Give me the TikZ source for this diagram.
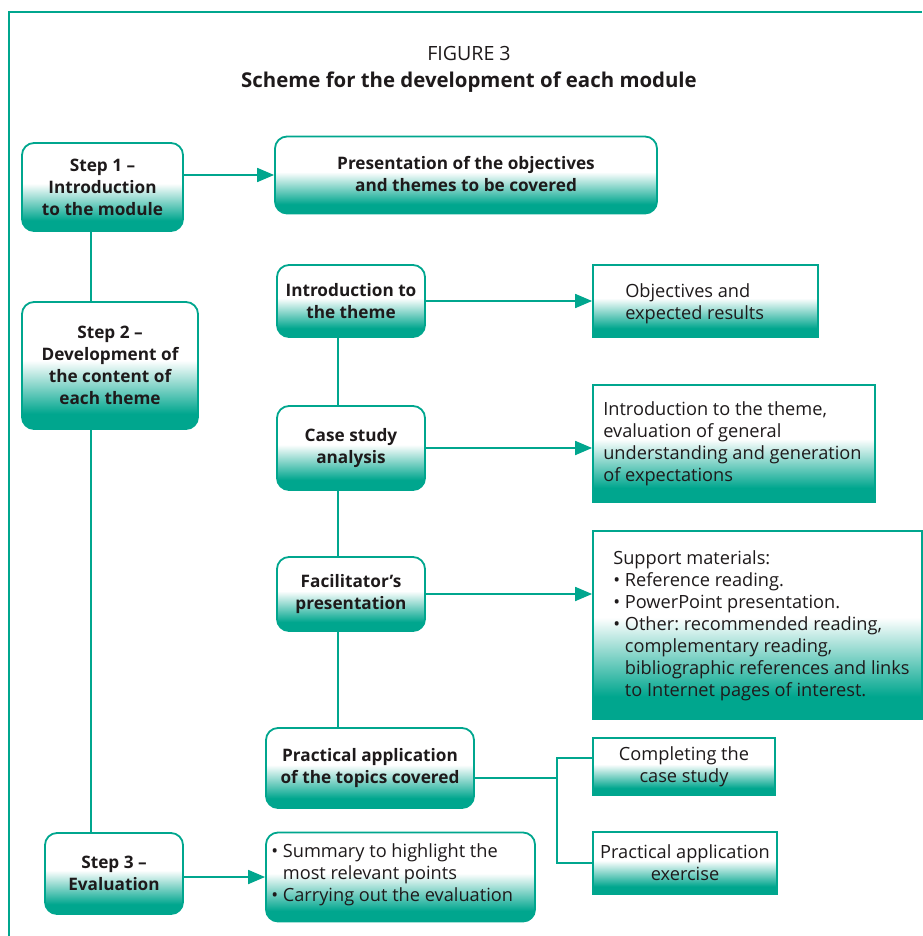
\documentclass[tikz,border=0pt]{standalone}
\usepackage{fontspec}
\setmainfont{Open Sans}
\usetikzlibrary{arrows.meta}
\definecolor{tealc}{RGB}{0,166,142}
\definecolor{ink}{RGB}{30,26,27}
\pgfdeclareverticalshading{tealfade}{100bp}{color(0bp)=(tealc); color(31bp)=(tealc); color(52bp)=(white); color(100bp)=(white)}
\frenchspacing
\begin{document}
\begin{tikzpicture}[x=1pt,y=-1pt,
  box/.style={draw=tealc, line width=1.8pt, shade, shading=tealfade, text=ink, inner sep=0pt},
  rbox/.style={box, rounded corners=12pt, align=center, font=\fontsize{17.2}{22}\selectfont\bfseries},
  sbox/.style={box, align=center, font=\fontsize{18.2}{22}\selectfont},
  txt/.style={text=ink, align=left, anchor=west, inner sep=0pt, font=\fontsize{18.2}{22}\selectfont},
  conn/.style={draw=tealc, line width=1.8pt},
  arr/.style={conn, -{Triangle[length=17pt,width=14pt]}}
]
\useasboundingbox (0,0) rectangle (922,936);
\draw[conn, line width=2pt] (9,936) -- (9,12) -- (922,12);

\node[font=\fontsize{19.6}{22}\selectfont, text=ink] (fig) at (469,54) {FIGURE 3};
\node[font=\fontsize{20.4}{24}\selectfont\bfseries, text=ink] (ttl) at (469,82) {Scheme for the development of each module};

% rounded boxes
\node[rbox, minimum width=161pt, minimum height=88pt] (s1) at (102.5,187) {Step 1 --\\Introduction\\to the module};
\node[rbox, minimum width=382pt, minimum height=77pt] (pres) at (466,175) {\raisebox{3pt}{Presentation of the objectives}\\\raisebox{3pt}{and themes to be covered}};
\node[rbox, minimum width=176pt, minimum height=127pt] (s2) at (110,365.5) {Step 2 --\\Development of\\the content of\\each theme};
\node[rbox, minimum width=148pt, minimum height=72pt] (it) at (351,301) {Introduction to\\the theme};
\node[rbox, minimum width=148pt, minimum height=84pt] (cs) at (351,448) {Case study\\analysis};
\node[rbox, minimum width=148pt, minimum height=74pt] (fp) at (351,594) {Facilitator’s\\presentation};
\node[rbox, minimum width=208pt, minimum height=80pt] (pa) at (370,768) {Practical application\\of the topics covered};
\node[rbox, minimum width=138pt, minimum height=81pt] (s3) at (114,873.5) {Step 3 --\\Evaluation};
\node[box, rounded corners=12pt, minimum width=269pt, minimum height=89pt] (sum) at (400.5,877) {};
\node[txt] (sumt) at ([xshift=6pt,yshift=2pt]sum.west) {\textbullet\ Summary to highlight the\\\hphantom{\textbullet\ }most relevant points\\\textbullet\ Carrying out the evaluation};

% square boxes
\node[box, minimum width=225pt, minimum height=72pt] (obj) at (705.5,301) {};
\node[txt] (objt) at ([xshift=33pt,yshift=-3pt]obj.west) {Objectives and\\expected results};
\node[box, minimum width=282pt, minimum height=117pt] (ite) at (734,443.5) {};
\node[txt] (itet) at ([xshift=11pt,yshift=-0.5pt]ite.west) {Introduction to the theme,\\evaluation of general\\understanding and generation\\of expectations};
\node[box, minimum width=329pt, minimum height=188pt] (sm) at (757.5,625) {};
\node[txt] (smt) at ([xshift=21pt,yshift=-0.5pt]sm.west) {Support materials:\\\textbullet\ Reference reading.\\\textbullet\ PowerPoint presentation.\\\textbullet\ Other: recommended reading,\\\hphantom{\textbullet\ }complementary reading,\\\hphantom{\textbullet\ }bibliographic references and links\\\hphantom{\textbullet\ }to Internet pages of interest.};
\node[sbox, minimum width=182pt, minimum height=57pt] (cc) at (684,766.5) {Completing the\\case study};
\node[sbox, minimum width=184pt, minimum height=62pt] (pae) at (685,863) {Practical application\\exercise};

% connectors
\coordinate (spine) at (91,0);
\coordinate (col) at (338,0);
\coordinate (fk) at (557,863);
\draw[conn] (s1.south -| spine) -- (s2.north -| spine);
\draw[conn] (s2.south -| spine) -- (s3.north -| spine);
\draw[conn] (it.south -| col) -- (cs.north -| col);
\draw[conn] (cs.south -| col) -- (fp.north -| col);
\draw[conn] (fp.south -| col) -- (pa.north -| col);
\draw[arr] (s1.east |- pres.west) -- (pres.west);
\draw[arr] (it.east) -- (obj.west);
\draw[arr] (cs.east) -- (cs.east -| ite.west);
\draw[arr] (fp.east) -- (fp.east -| sm.west);
\draw[arr] (s3.east |- sum.west) -- (sum.west);
\draw[conn] ([yshift=-10pt]pa.east) -- ([yshift=-10pt]pa.east -| fk);
\draw[conn] ([yshift=8.5pt]cc.west) -| (fk) -- (pae.west |- fk);
\end{tikzpicture}
\end{document}
